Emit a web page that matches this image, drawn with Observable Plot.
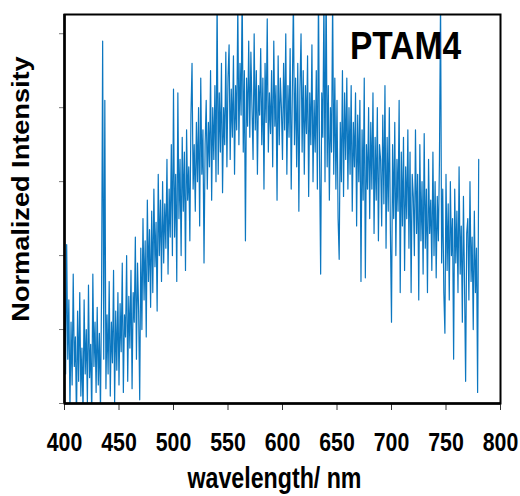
<!DOCTYPE html>
<html><head><meta charset="utf-8">
<script src="https://cdn.jsdelivr.net/npm/d3@7"></script>
<script src="https://cdn.jsdelivr.net/npm/@observablehq/plot@0.6"></script>
<style>body{margin:0;background:#fff;}</style>
</head><body><div id="chart"></div>
<script>
const title = "PTAM4";
const xLabel = "wavelength/ nm";
const yLabel = "Normalized Intensity";
const xTicks = [400, 450, 500, 550, 600, 650, 700, 750, 800];
const yTicks = [0, 0.2, 0.4, 0.6, 0.8, 1.0];
const startWavelength = 400; // nm, one sample per nm
const intensity = [
0.30,0.08,0.43,0.12,0.28,-0.02,0.22,0.05,0.35,0.10,
0.18,-0.05,0.25,0.06,0.30,0.02,0.15,-0.03,0.28,0.08,
0.20,0.00,0.32,0.07,0.16,-0.04,0.35,0.10,0.22,0.03,
0.26,0.05,0.19,-0.02,0.30,0.98,0.12,0.82,0.04,0.24,
0.08,0.33,0.02,0.22,0.11,0.36,0.00,0.25,0.09,0.30,
0.05,0.27,0.14,0.38,0.03,0.24,0.18,0.40,0.06,0.29,
0.15,0.36,0.04,0.30,0.22,0.45,0.12,0.38,0.25,0.01,
0.42,0.20,0.50,0.28,0.44,0.18,0.55,0.33,0.47,0.26,
0.52,0.30,0.58,0.37,0.49,0.25,0.62,0.40,0.55,0.33,
0.60,0.38,0.54,0.42,0.66,0.35,0.58,0.45,0.70,0.40,
0.85,0.45,0.62,0.33,0.84,0.50,0.66,0.40,0.72,0.52,
0.68,0.36,0.74,0.55,0.64,0.44,0.78,0.92,0.58,0.70,
0.52,0.76,0.60,0.80,0.48,0.88,0.62,0.74,0.38,0.70,
0.82,0.58,0.76,0.64,0.90,0.55,0.80,0.66,0.86,0.60,
1.10,0.62,0.84,0.68,0.92,0.57,0.80,0.70,0.95,0.64,
0.88,0.97,0.66,0.85,0.72,0.94,0.62,0.86,0.74,1.08,
0.70,0.92,0.78,1.12,0.68,0.90,0.44,0.88,0.75,0.98,
0.72,0.95,0.80,0.66,1.00,0.74,0.90,0.62,0.86,0.78,
0.96,0.70,0.88,0.58,0.92,0.76,1.04,0.68,0.84,0.73,
0.90,0.64,0.98,0.75,0.86,0.55,0.94,0.70,0.88,0.80,
0.66,0.92,0.74,1.00,0.62,0.86,0.72,0.96,0.58,0.84,
1.10,0.70,0.88,0.64,0.92,0.52,0.85,1.00,0.68,0.90,
0.62,0.86,0.73,0.94,0.56,0.84,0.70,0.97,0.60,0.82,
0.68,0.90,0.58,1.12,0.66,0.35,0.84,0.72,1.10,0.60,
1.15,0.64,0.86,0.55,0.80,0.68,1.10,0.62,0.88,0.58,
0.82,0.50,0.39,0.76,0.60,0.90,0.56,0.84,0.66,0.88,
0.58,0.80,0.62,0.86,0.52,0.76,0.64,0.84,0.48,0.78,
0.60,0.82,0.33,0.74,0.55,0.88,0.34,0.70,0.58,0.80,
0.50,0.76,0.58,0.84,0.46,0.72,0.55,0.80,0.44,0.70,
0.66,0.48,0.78,0.54,0.86,0.42,0.72,0.52,0.80,0.46,
0.22,0.70,0.50,0.76,0.40,0.66,0.52,0.82,0.30,0.68,
0.48,0.72,0.36,0.64,0.50,0.74,0.42,0.68,0.30,0.62,
0.56,0.40,0.74,0.46,0.62,0.28,0.70,0.44,0.60,0.35,
0.73,0.42,0.58,0.30,0.66,0.46,0.55,0.36,0.68,0.40,
0.60,0.34,0.56,0.44,0.66,1.10,0.38,0.58,0.30,0.19,
0.62,0.36,0.54,0.28,0.60,0.40,0.50,0.12,0.58,0.38,
0.52,0.30,0.64,0.35,0.48,0.22,0.56,0.32,0.06,0.46,
0.50,0.28,0.60,0.33,0.45,0.20,0.52,0.30,0.42,0.03,
0.66
];
const data = intensity.map((v, i) => ({wavelength: startWavelength + i, intensity: v}));

const font = "'Liberation Sans', Arial, Helvetica, sans-serif";
const plot = Plot.plot({
  width: 520, height: 496,
  marginLeft: 64, marginRight: 20, marginTop: 14, marginBottom: 93,
  style: {fontFamily: font, background: "#fff", overflow: "visible"},
  x: {domain: [400, 800], label: null},
  y: {domain: [0, 1.052], label: null},
  marks: [
    Plot.line(data, {x: "wavelength", y: "intensity", stroke: "#0c77c0", strokeWidth: 1.2, clip: true}),
    Plot.axisX({ticks: xTicks, tickSize: 7, tickPadding: 22, stroke: "#333", fill: "#000",
      fontSize: 26, fontWeight: "bold", label: null, tickFormat: d => String(d)}),
    Plot.axisY({ticks: yTicks, tickSize: 5, stroke: "#777", tickFormat: () => "", label: null}),
    Plot.ruleY([0], {stroke: "#000", strokeWidth: 2.5}),
    Plot.ruleX([400], {stroke: "#000", strokeWidth: 2.5}),
    Plot.frame({stroke: "#000", strokeWidth: 2}),
    Plot.text([title], {frameAnchor: "top", dx: 123, dy: 44, lineAnchor: "bottom", textAnchor: "middle",
      fontSize: 39, fontWeight: "bold", fill: "#000"}),
    Plot.text([xLabel], {frameAnchor: "bottom", dx: -8, dy: 84, lineAnchor: "bottom", textAnchor: "middle",
      fontSize: 29, fontWeight: "bold", fill: "#000"}),
    Plot.text([yLabel], {frameAnchor: "left", dx: -36, dy: -20, rotate: -90, lineAnchor: "bottom", textAnchor: "middle",
      fontSize: 23, fontWeight: "bold", fill: "#000"})
  ]
});
document.getElementById("chart").appendChild(plot);

// narrow the glyphs horizontally to match the reference lettering
const svg = d3.select(plot);
function squeeze(sel, s) {
  sel.each(function () {
    const t = this.getAttribute("transform") || "";
    this.setAttribute("transform", t + " " + s);
  });
}
squeeze(svg.selectAll('g[aria-label="x-axis tick label"] text'), "scale(0.82,1)");
squeeze(svg.selectAll("text").filter(function () { return this.textContent === title; }), "scale(0.86,1)");
squeeze(svg.selectAll("text").filter(function () { return this.textContent === xLabel; }), "scale(0.8,1)");
squeeze(svg.selectAll("text").filter(function () { return this.textContent === yLabel; }), "scale(1.18,1)");
</script>
</body></html>
